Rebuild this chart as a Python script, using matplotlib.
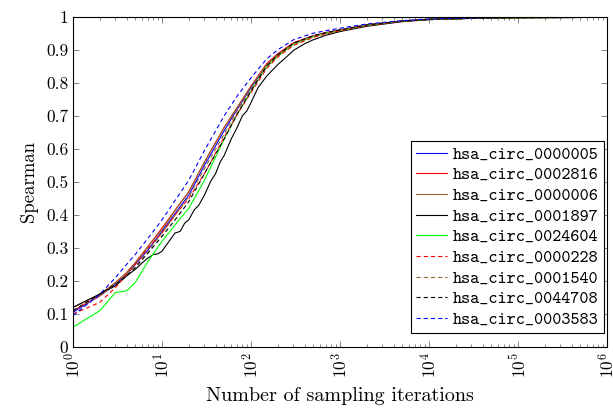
import numpy as np
import matplotlib
matplotlib.use("Agg")
import matplotlib.pyplot as plt
from matplotlib.ticker import LogLocator, FixedLocator, FixedFormatter

plt.rcParams["font.family"] = ["cmr10", "DejaVu Serif"]
plt.rcParams["mathtext.fontset"] = "cm"
plt.rcParams["axes.formatter.use_mathtext"] = True
plt.rcParams["lines.scale_dashes"] = False

# sampling iterations (x) and Spearman correlation per circRNA
iters = [1, 2, 3, 4, 5, 7, 10, 15, 20, 30, 50, 70, 100, 150, 200, 300, 500,
         700, 1000, 2000, 5000, 10000, 30000, 100000, 1000000]

circ_0000005 = [0.105, 0.155, 0.19, 0.22, 0.25, 0.295, 0.35, 0.415, 0.46, 0.55,
                0.655, 0.72, 0.785, 0.855, 0.886, 0.92, 0.942, 0.952, 0.96, 0.975,
                0.987, 0.992, 0.995, 0.997, 0.998]
circ_0002816 = [0.11, 0.155, 0.195, 0.225, 0.255, 0.305, 0.36, 0.425, 0.47, 0.56,
                0.665, 0.725, 0.79, 0.858, 0.888, 0.921, 0.942, 0.952, 0.96, 0.975,
                0.987, 0.992, 0.995, 0.997, 0.998]
circ_0000006 = [0.12, 0.16, 0.195, 0.225, 0.255, 0.305, 0.355, 0.425, 0.47, 0.56,
                0.665, 0.725, 0.79, 0.855, 0.885, 0.918, 0.94, 0.95, 0.958, 0.973,
                0.986, 0.991, 0.995, 0.997, 0.998]
circ_0024604 = [0.06, 0.11, 0.165, 0.17, 0.195, 0.26, 0.32, 0.38, 0.42, 0.505,
                0.63, 0.705, 0.775, 0.848, 0.88, 0.916, 0.94, 0.95, 0.958, 0.974,
                0.987, 0.992, 0.995, 0.997, 0.998]
circ_0000228 = [0.1, 0.135, 0.18, 0.22, 0.25, 0.3, 0.345, 0.41, 0.45, 0.525,
                0.635, 0.705, 0.77, 0.843, 0.878, 0.913, 0.937, 0.948, 0.957, 0.973,
                0.986, 0.992, 0.995, 0.997, 0.998]
circ_0001540 = [0.11, 0.155, 0.19, 0.22, 0.245, 0.29, 0.345, 0.41, 0.455, 0.54,
                0.645, 0.715, 0.78, 0.85, 0.882, 0.917, 0.94, 0.95, 0.958, 0.974,
                0.987, 0.992, 0.995, 0.997, 0.998]
circ_0044708 = [0.11, 0.16, 0.19, 0.215, 0.24, 0.285, 0.335, 0.395, 0.44, 0.525,
                0.63, 0.705, 0.775, 0.85, 0.884, 0.92, 0.942, 0.952, 0.96, 0.975,
                0.987, 0.992, 0.995, 0.997, 0.998]
circ_0003583 = [0.095, 0.16, 0.21, 0.25, 0.28, 0.33, 0.385, 0.455, 0.505, 0.595,
                0.7, 0.76, 0.815, 0.872, 0.9, 0.93, 0.95, 0.958, 0.965, 0.978,
                0.988, 0.993, 0.996, 0.998, 0.999]

# jagged run, sampled more densely
iters_1897 = [1, 2, 3, 4, 5, 6, 7, 8, 9, 10, 12, 14, 16, 18, 20, 23, 26, 30, 35,
              40, 45, 50, 60, 70, 80, 90, 100, 120, 150, 200, 250, 300, 400, 500,
              700, 1000, 2000, 5000, 10000, 30000, 100000, 1000000]
circ_0001897 = [0.12, 0.16, 0.185, 0.215, 0.235, 0.255, 0.27, 0.28, 0.282, 0.29,
                0.32, 0.345, 0.35, 0.375, 0.385, 0.415, 0.43, 0.46, 0.5, 0.525,
                0.56, 0.58, 0.63, 0.665, 0.7, 0.715, 0.74, 0.785, 0.82, 0.855,
                0.878, 0.898, 0.918, 0.93, 0.944, 0.955, 0.971, 0.985, 0.991,
                0.995, 0.997, 0.998]

labels = ["hsa_circ_0000005", "hsa_circ_0002816", "hsa_circ_0000006",
          "hsa_circ_0001897", "hsa_circ_0024604", "hsa_circ_0000228",
          "hsa_circ_0001540", "hsa_circ_0044708", "hsa_circ_0003583"]

brown = (0.6, 0.4, 0.2)
series = [
    (iters, circ_0000005, "blue", "-"),
    (iters, circ_0002816, "red", "-"),
    (iters, circ_0000006, brown, "-"),
    (iters_1897, circ_0001897, "black", "-"),
    (iters, circ_0024604, (0, 1, 0), "-"),
    (iters, circ_0000228, "red", "--"),
    (iters, circ_0001540, brown, "--"),
    (iters, circ_0044708, "black", "--"),
    (iters, circ_0003583, "blue", "--"),
]

fig = plt.figure(figsize=(6.13, 4.09), dpi=100)
ax = fig.add_axes([0.1191, 0.1516, 0.8711, 0.8076])

for (x, y, c, ls), lab in zip(series, labels):
    kw = dict(color=c, linewidth=0.8, label=lab)
    if ls == "--":
        kw["dashes"] = (3.0, 2.2)
    ax.plot(x, y, **kw)

ax.set_xscale("log")
ax.set_xlim(1, 1e6)
ax.set_ylim(0, 1)

ax.xaxis.set_major_locator(LogLocator(base=10, numticks=10))
ax.xaxis.set_minor_locator(LogLocator(base=10, subs=np.arange(2, 10), numticks=20))
ax.tick_params(axis="x", labelrotation=90)

yt = [0, 0.1, 0.2, 0.3, 0.4, 0.5, 0.6, 0.7, 0.8, 0.9, 1]
ax.yaxis.set_major_locator(FixedLocator(yt))
ax.yaxis.set_major_formatter(FixedFormatter(["0", "0.1", "0.2", "0.3", "0.4", "0.5",
                                             "0.6", "0.7", "0.8", "0.9", "1"]))

ax.tick_params(which="both", direction="in", top=True, right=True, labelsize=12.5,
               width=0.6, color="0.45")
ax.tick_params(which="major", length=4)
ax.tick_params(which="minor", length=2.2)
ax.tick_params(axis="x", pad=4)
for s in ax.spines.values():
    s.set_linewidth(0.8)

ax.set_xlabel("Number of sampling iterations", fontsize=14.5, labelpad=6)
ax.set_ylabel("Spearman", fontsize=13.5, labelpad=6)

leg = ax.legend(loc="lower right", bbox_to_anchor=(0.994, 0.042), borderaxespad=0,
                prop={"family": "cmtt10", "size": 12.5}, fancybox=False,
                framealpha=1, edgecolor="black", handlelength=1.8,
                handletextpad=0.3, labelspacing=0.26, borderpad=0.3)
leg.get_frame().set_linewidth(0.8)

fig.savefig("out.png", dpi=100)
